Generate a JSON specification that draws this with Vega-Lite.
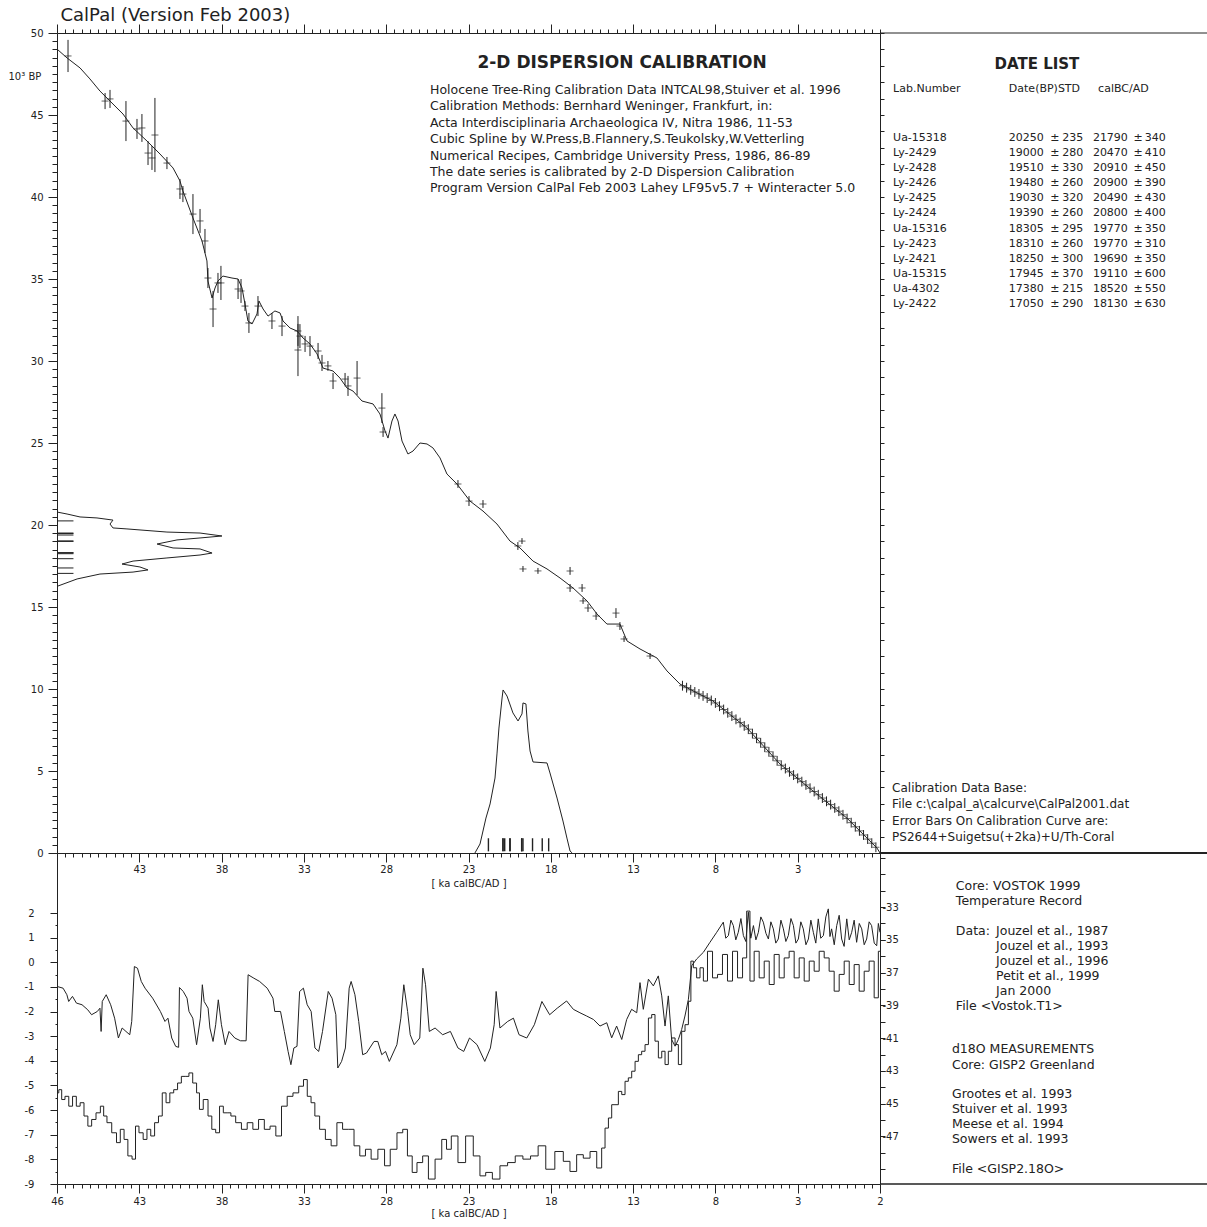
{
"$schema": "https://vega.github.io/schema/vega-lite/v6.json",
"padding": {"left": 8, "top": 6, "right": 0, "bottom": 4},
"config": {
 "view": {"stroke": null},
 "font": "DejaVu Sans",
 "axis": {"grid": false, "domainColor": "#222", "tickColor": "#222", "labelColor": "#222", "labelFont": "DejaVu Sans", "labelFontSize": 10, "titleFont": "DejaVu Sans", "titleFontSize": 10, "titleFontWeight": "normal", "titleColor": "#222", "domainWidth": 1, "tickWidth": 1},
 "text": {"font": "DejaVu Sans", "fill": "#222"}
},
"datasets": {
 "curve": [
  {"x":48000,"y":49020},{"x":47390,"y":48480},{"x":46600,"y":47870},{"x":46000,"y":47200},{"x":45390,"y":46460},{"x":44780,"y":45850},{"x":43990,"y":45060},{"x":43380,"y":44210},{"x":42530,"y":43410},{"x":41740,"y":42620},{"x":40950,"y":41770},{"x":40530,"y":40980},{"x":40350,"y":40370},{"x":39740,"y":38720},{"x":39190,"y":37320},{"x":38890,"y":36100},{"x":38830,"y":34880},{"x":38580,"y":33840},{"x":38400,"y":34450},{"x":38220,"y":34880},{"x":37920,"y":35180},{"x":37370,"y":35060},{"x":37000,"y":35000},{"x":36760,"y":34450},{"x":36580,"y":33480},{"x":36400,"y":32440},{"x":36150,"y":32260},{"x":35850,"y":32870},{"x":35730,"y":33660},{"x":35480,"y":33170},{"x":35180,"y":32740},{"x":34760,"y":33050},{"x":34450,"y":32930},{"x":34270,"y":32440},{"x":33840,"y":32010},{"x":33420,"y":31830},{"x":33050,"y":31400},{"x":32630,"y":31040},{"x":32200,"y":30430},{"x":31840,"y":29570},{"x":31230,"y":29390},{"x":30810,"y":28960},{"x":30380,"y":28350},{"x":30020,"y":28170},{"x":29470,"y":27560},{"x":28800,"y":27380},{"x":28380,"y":26770},{"x":28070,"y":25730},{"x":27890,"y":25300},{"x":27650,"y":26340},{"x":27470,"y":26770},{"x":27280,"y":26340},{"x":27040,"y":25120},{"x":26680,"y":24330},{"x":26370,"y":24510},{"x":25950,"y":25000},{"x":25520,"y":24940},{"x":25160,"y":24700},{"x":24730,"y":24090},{"x":24310,"y":23110},{"x":23700,"y":22500},{"x":22910,"y":21460},{"x":22120,"y":20850},{"x":21270,"y":20060},{"x":20480,"y":19020},{"x":19870,"y":18600},{"x":19080,"y":17800},{"x":18230,"y":17320},{"x":17440,"y":16770},{"x":16650,"y":16160},{"x":15800,"y":15370},{"x":15190,"y":14570},{"x":14590,"y":13960},{"x":13800,"y":13960},{"x":13370,"y":12930},{"x":12580,"y":12440},{"x":11550,"y":11890},{"x":10940,"y":11100},{"x":10150,"y":10300},{"x":9000,"y":9700},{"x":8150,"y":9270},{"x":6080,"y":7620},{"x":4080,"y":5430},{"x":2070,"y":3780},{"x":10,"y":2130},{"x":-1820,"y":300},{"x":-2000,"y":0}
 ],
 "errbars": [
  {"x":47330,"y":48600,"lo":47620,"hi":49580},{"x":45080,"y":45850,"lo":45360,"hi":46340},{"x":44780,"y":45980,"lo":45430,"hi":46530},{"x":43810,"y":44630,"lo":43410,"hi":45850},{"x":43140,"y":44150,"lo":43540,"hi":44760},{"x":42840,"y":44210,"lo":43360,"hi":45060},{"x":42470,"y":42680,"lo":41950,"hi":43410},{"x":42230,"y":42380,"lo":41650,"hi":43110},{"x":42050,"y":43780,"lo":41520,"hi":46040},{"x":41320,"y":42070,"lo":41700,"hi":42440},{"x":40530,"y":40490,"lo":39880,"hi":41100},{"x":40350,"y":40180,"lo":39690,"hi":40670},{"x":39740,"y":38960,"lo":37740,"hi":40180},{"x":39310,"y":38540,"lo":37810,"hi":39270},{"x":39010,"y":37320,"lo":36590,"hi":38050},{"x":38830,"y":35060,"lo":34450,"hi":35670},{"x":38520,"y":33170,"lo":32070,"hi":34270},{"x":38220,"y":34760,"lo":34150,"hi":35370},{"x":38040,"y":34760,"lo":33720,"hi":35800},{"x":37000,"y":34390,"lo":33780,"hi":35000},{"x":36820,"y":34270,"lo":33540,"hi":35000},{"x":36580,"y":33350,"lo":33050,"hi":33650},{"x":36340,"y":32320,"lo":31710,"hi":32930},{"x":35790,"y":33350,"lo":32740,"hi":33960},{"x":34940,"y":32440,"lo":31950,"hi":32930},{"x":34330,"y":32130,"lo":31520,"hi":32740},{"x":33360,"y":31830,"lo":30920,"hi":32740},{"x":33240,"y":31520,"lo":30790,"hi":32250},{"x":32930,"y":31040,"lo":30550,"hi":31530},{"x":33360,"y":30670,"lo":29080,"hi":32260},{"x":32630,"y":30910,"lo":30300,"hi":31520},{"x":32140,"y":30610,"lo":30120,"hi":31100},{"x":31900,"y":29880,"lo":29390,"hi":30370},{"x":31540,"y":29700,"lo":29400,"hi":30000},{"x":31230,"y":28780,"lo":28290,"hi":29270},{"x":30500,"y":28900,"lo":28530,"hi":29270},{"x":30320,"y":28480,"lo":27870,"hi":29090},{"x":29770,"y":28960,"lo":27920,"hi":30000},{"x":28260,"y":27130,"lo":26220,"hi":28040},{"x":28190,"y":25670,"lo":25370,"hi":25970},{"x":23640,"y":22500,"lo":22260,"hi":22740},{"x":22970,"y":21460,"lo":21160,"hi":21760},{"x":22120,"y":21280,"lo":21040,"hi":21520},{"x":20000,"y":18720,"lo":18480,"hi":18960},{"x":19750,"y":19020,"lo":18840,"hi":19200},{"x":19690,"y":17320,"lo":17140,"hi":17500},{"x":18780,"y":17200,"lo":17020,"hi":17380},{"x":16830,"y":17200,"lo":16960,"hi":17440},{"x":16830,"y":16160,"lo":15920,"hi":16400},{"x":16100,"y":16160,"lo":15920,"hi":16400},{"x":16040,"y":15370,"lo":15190,"hi":15550},{"x":15740,"y":14940,"lo":14700,"hi":15180},{"x":15250,"y":14450,"lo":14210,"hi":14690},{"x":14040,"y":14630,"lo":14330,"hi":14930},{"x":13800,"y":13840,"lo":13600,"hi":14080},{"x":13550,"y":13050,"lo":12870,"hi":13230},{"x":11970,"y":12010,"lo":11830,"hi":12190},
  {"x":10000,"y":10200,"lo":9900,"hi":10500},{"x":9750,"y":10080,"lo":9780,"hi":10380},{"x":9500,"y":9950,"lo":9650,"hi":10250},{"x":9250,"y":9820,"lo":9520,"hi":10120},{"x":9000,"y":9700,"lo":9400,"hi":10000},{"x":8750,"y":9580,"lo":9280,"hi":9880},{"x":8500,"y":9450,"lo":9150,"hi":9750},{"x":8250,"y":9300,"lo":9000,"hi":9600},{"x":8000,"y":9150,"lo":8850,"hi":9450},{"x":7750,"y":8950,"lo":8650,"hi":9250},{"x":7500,"y":8750,"lo":8450,"hi":9050},{"x":7250,"y":8550,"lo":8250,"hi":8850},{"x":7000,"y":8350,"lo":8050,"hi":8650},{"x":6750,"y":8150,"lo":7850,"hi":8450},{"x":6500,"y":7950,"lo":7650,"hi":8250},{"x":6250,"y":7750,"lo":7450,"hi":8050},{"x":6000,"y":7550,"lo":7250,"hi":7850},{"x":5750,"y":7280,"lo":6980,"hi":7580},{"x":5500,"y":7000,"lo":6700,"hi":7300},{"x":5250,"y":6720,"lo":6420,"hi":7020},{"x":5000,"y":6450,"lo":6150,"hi":6750},{"x":4750,"y":6170,"lo":5870,"hi":6470},{"x":4500,"y":5900,"lo":5600,"hi":6200},{"x":4250,"y":5620,"lo":5320,"hi":5920},{"x":4000,"y":5350,"lo":5050,"hi":5650},{"x":3750,"y":5150,"lo":4850,"hi":5450},{"x":3500,"y":4950,"lo":4650,"hi":5250},{"x":3250,"y":4750,"lo":4450,"hi":5050},{"x":3000,"y":4550,"lo":4250,"hi":4850},{"x":2750,"y":4350,"lo":4050,"hi":4650},{"x":2500,"y":4150,"lo":3850,"hi":4450},{"x":2250,"y":3950,"lo":3650,"hi":4250},{"x":2000,"y":3750,"lo":3450,"hi":4050},{"x":1750,"y":3550,"lo":3250,"hi":3850},{"x":1500,"y":3350,"lo":3050,"hi":3650},{"x":1250,"y":3150,"lo":2850,"hi":3450},{"x":1000,"y":2950,"lo":2650,"hi":3250},{"x":750,"y":2750,"lo":2450,"hi":3050},{"x":500,"y":2550,"lo":2250,"hi":2850},{"x":250,"y":2330,"lo":2030,"hi":2630},{"x":0,"y":2100,"lo":1800,"hi":2400},{"x":-250,"y":1850,"lo":1550,"hi":2150},{"x":-500,"y":1600,"lo":1300,"hi":1900},{"x":-750,"y":1350,"lo":1050,"hi":1650},{"x":-1000,"y":1100,"lo":800,"hi":1400},{"x":-1250,"y":850,"lo":550,"hi":1150},{"x":-1500,"y":600,"lo":300,"hi":900},{"x":-1750,"y":350,"lo":50,"hi":650}
 ],
 "dist14c": [
  {"x":48000,"y":20790},{"x":47390,"y":20670},{"x":46600,"y":20490},{"x":45570,"y":20430},{"x":44600,"y":20300},{"x":44780,"y":20060},{"x":44600,"y":19820},{"x":43750,"y":19760},{"x":41320,"y":19570},{"x":39310,"y":19510},{"x":37980,"y":19330},{"x":39310,"y":19210},{"x":40710,"y":19090},{"x":41920,"y":18840},{"x":40950,"y":18600},{"x":39310,"y":18540},{"x":38580,"y":18290},{"x":39310,"y":18170},{"x":41320,"y":17990},{"x":43380,"y":17800},{"x":44050,"y":17620},{"x":42960,"y":17440},{"x":42470,"y":17260},{"x":43380,"y":17130},{"x":45390,"y":17010},{"x":46780,"y":16710},{"x":47940,"y":16280}
 ],
 "distcal": [
  {"x":22610,"p":0},{"x":22300,"p":550},{"x":21940,"p":2130},{"x":21690,"p":2990},{"x":21390,"p":4570},{"x":21270,"p":6040},{"x":21150,"p":7620},{"x":20960,"p":9450},{"x":20900,"p":9940},{"x":20660,"p":9570},{"x":20300,"p":8540},{"x":19990,"p":8050},{"x":19750,"p":8480},{"x":19690,"p":9150},{"x":19510,"p":9090},{"x":19390,"p":7440},{"x":19260,"p":6220},{"x":19080,"p":5550},{"x":18230,"p":5490},{"x":18050,"p":4880},{"x":17620,"p":3350},{"x":17260,"p":1950},{"x":17020,"p":910},{"x":16830,"p":120},{"x":16700,"p":0}
 ],
 "dates": [
  {"lab":"Ua-15318","bp":20250,"bpsd":235,"cal":21790,"calsd":340},
  {"lab":"Ly-2429","bp":19000,"bpsd":280,"cal":20470,"calsd":410},
  {"lab":"Ly-2428","bp":19510,"bpsd":330,"cal":20910,"calsd":450},
  {"lab":"Ly-2426","bp":19480,"bpsd":260,"cal":20900,"calsd":390},
  {"lab":"Ly-2425","bp":19030,"bpsd":320,"cal":20490,"calsd":430},
  {"lab":"Ly-2424","bp":19390,"bpsd":260,"cal":20800,"calsd":400},
  {"lab":"Ua-15316","bp":18305,"bpsd":295,"cal":19770,"calsd":350},
  {"lab":"Ly-2423","bp":18310,"bpsd":260,"cal":19770,"calsd":310},
  {"lab":"Ly-2421","bp":18250,"bpsd":300,"cal":19690,"calsd":350},
  {"lab":"Ua-15315","bp":17945,"bpsd":370,"cal":19110,"calsd":600},
  {"lab":"Ua-4302","bp":17380,"bpsd":215,"cal":18520,"calsd":550},
  {"lab":"Ly-2422","bp":17050,"bpsd":290,"cal":18130,"calsd":630}
 ],
 "gisp2": [
  {"x":47980,"d":-37.85},{"x":47630,"d":-37.95},{"x":47400,"d":-38.35},{"x":47290,"d":-38.76},{"x":47060,"d":-38.45},{"x":46820,"d":-38.86},{"x":46480,"d":-38.96},{"x":46130,"d":-39.27},{"x":45900,"d":-39.57},{"x":45550,"d":-39.37},{"x":45390,"d":-39.17},{"x":45320,"d":-40.59},{"x":45250,"d":-38.76},{"x":45010,"d":-38.35},{"x":44740,"d":-38.96},{"x":44500,"d":-39.78},{"x":44270,"d":-40.99},{"x":44040,"d":-40.38},{"x":43810,"d":-40.59},{"x":43580,"d":-40.79},{"x":43460,"d":-39.98},{"x":43300,"d":-36.63},{"x":43110,"d":-36.73},{"x":42880,"d":-37.54},{"x":42650,"d":-37.95},{"x":42190,"d":-38.56},{"x":41720,"d":-39.37},{"x":41440,"d":-39.98},{"x":41260,"d":-39.78},{"x":41030,"d":-40.99},{"x":40790,"d":-41.50},{"x":40610,"d":-41.56},{"x":40560,"d":-37.91},{"x":40330,"d":-38.15},{"x":40100,"d":-38.56},{"x":39980,"d":-39.37},{"x":39750,"d":-39.78},{"x":39520,"d":-41.40},{"x":39290,"d":-39.78},{"x":39170,"d":-37.74},{"x":39060,"d":-38.76},{"x":38820,"d":-39.17},{"x":38710,"d":-40.38},{"x":38520,"d":-41.20},{"x":38360,"d":-40.18},{"x":38200,"d":-38.66},{"x":38010,"d":-40.18},{"x":37780,"d":-41.40},{"x":37550,"d":-40.59},{"x":37200,"d":-40.99},{"x":36850,"d":-41.16},{"x":36510,"d":-41.16},{"x":36390,"d":-37.13},{"x":36040,"d":-37.34},{"x":35690,"d":-37.54},{"x":35230,"d":-37.95},{"x":34880,"d":-38.56},{"x":34770,"d":-39.37},{"x":34420,"d":-39.37},{"x":34190,"d":-40.59},{"x":33960,"d":-41.81},{"x":33790,"d":-42.62},{"x":33610,"d":-41.60},{"x":33420,"d":-41.50},{"x":33260,"d":-38.15},{"x":33030,"d":-37.95},{"x":32800,"d":-38.96},{"x":32560,"d":-39.37},{"x":32330,"d":-41.60},{"x":32100,"d":-41.81},{"x":31870,"d":-40.59},{"x":31520,"d":-38.15},{"x":31290,"d":-38.56},{"x":31060,"d":-39.57},{"x":30940,"d":-42.82},{"x":30710,"d":-42.42},{"x":30480,"d":-41.60},{"x":30250,"d":-37.95},{"x":30130,"d":-37.54},{"x":29900,"d":-38.35},{"x":29670,"d":-39.98},{"x":29430,"d":-42.01},{"x":29200,"d":-41.91},{"x":28740,"d":-41.20},{"x":28510,"d":-41.20},{"x":28270,"d":-42.01},{"x":28040,"d":-41.81},{"x":27810,"d":-42.42},{"x":27350,"d":-41.40},{"x":27110,"d":-39.78},{"x":26930,"d":-37.74},{"x":26700,"d":-39.37},{"x":26540,"d":-40.79},{"x":26300,"d":-41.40},{"x":25960,"d":-40.99},{"x":25770,"d":-36.73},{"x":25610,"d":-37.74},{"x":25380,"d":-40.59},{"x":25030,"d":-40.38},{"x":24570,"d":-40.79},{"x":24100,"d":-40.59},{"x":23640,"d":-41.60},{"x":23290,"d":-41.81},{"x":22940,"d":-40.99},{"x":22480,"d":-41.40},{"x":22010,"d":-42.42},{"x":21670,"d":-41.60},{"x":21440,"d":-40.18},{"x":21320,"d":-38.15},{"x":21090,"d":-40.38},{"x":20620,"d":-39.98},{"x":20270,"d":-39.78},{"x":19930,"d":-40.79},{"x":19460,"d":-40.99},{"x":19000,"d":-40.18},{"x":18540,"d":-38.76},{"x":18070,"d":-39.57},{"x":17610,"d":-39.17},{"x":17440,"d":-39.04},{"x":17040,"d":-38.73},{"x":16630,"d":-39.24},{"x":16230,"d":-39.45},{"x":15820,"d":-39.65},{"x":15410,"d":-39.86},{"x":15010,"d":-40.26},{"x":14600,"d":-40.06},{"x":14300,"d":-40.98},{"x":14000,"d":-40.26},{"x":13690,"d":-41.08},{"x":13390,"d":-39.86},{"x":13090,"d":-39.24},{"x":12780,"d":-39.45},{"x":12580,"d":-37.61},{"x":12380,"d":-39.24},{"x":12070,"d":-37.40},{"x":11770,"d":-37.81},{"x":11470,"d":-37.20},{"x":11260,"d":-38.42},{"x":11060,"d":-40.26},{"x":10860,"d":-38.42},{"x":10660,"d":-41.08},{"x":10450,"d":-41.49},{"x":10250,"d":-41.08},{"x":10050,"d":-40.47},{"x":9850,"d":-39.65},{"x":9640,"d":-38.63},{"x":9440,"d":-36.58},{"x":9140,"d":-36.17},{"x":8730,"d":-35.76},{"x":8330,"d":-35.15},{"x":7920,"d":-34.54},{"x":7520,"d":-33.92},{"x":7370,"d":-34.9},{"x":7210,"d":-34.74},{"x":7060,"d":-33.8},{"x":6910,"d":-34.13},{"x":6760,"d":-35.0},{"x":6610,"d":-34.54},{"x":6450,"d":-33.7},{"x":6300,"d":-34.74},{"x":6150,"d":-35.1},{"x":6000,"d":-33.31},{"x":5850,"d":-34.9},{"x":5690,"d":-34.13},{"x":5540,"d":-35.0},{"x":5390,"d":-34.54},{"x":5240,"d":-33.6},{"x":5090,"d":-33.92},{"x":4930,"d":-34.6},{"x":4780,"d":-34.95},{"x":4630,"d":-33.9},{"x":4480,"d":-34.33},{"x":4330,"d":-35.2},{"x":4180,"d":-34.95},{"x":4020,"d":-33.8},{"x":3870,"d":-34.33},{"x":3720,"d":-35.1},{"x":3570,"d":-34.74},{"x":3410,"d":-33.7},{"x":3260,"d":-34.13},{"x":3110,"d":-35.2},{"x":2960,"d":-34.95},{"x":2810,"d":-33.9},{"x":2660,"d":-34.33},{"x":2500,"d":-35.3},{"x":2350,"d":-34.95},{"x":2200,"d":-33.8},{"x":2050,"d":-34.54},{"x":1900,"d":-35.2},{"x":1750,"d":-33.72},{"x":1600,"d":-34.9},{"x":1440,"d":-34.74},{"x":1290,"d":-33.6},{"x":1140,"d":-33.11},{"x":1040,"d":-34.8},{"x":940,"d":-34.33},{"x":780,"d":-35.3},{"x":630,"d":-34.13},{"x":480,"d":-33.5},{"x":330,"d":-34.95},{"x":180,"d":-35.4},{"x":20,"d":-33.72},{"x":-130,"d":-35.0},{"x":-280,"d":-34.54},{"x":-430,"d":-33.8},{"x":-580,"d":-35.15},{"x":-740,"d":-34.0},{"x":-890,"d":-34.33},{"x":-1040,"d":-35.3},{"x":-1190,"d":-34.95},{"x":-1340,"d":-33.9},{"x":-1490,"d":-34.13},{"x":-1650,"d":-35.2},{"x":-1800,"d":-35.36},{"x":-1900,"d":-34.0},{"x":-2000,"d":-34.54}
 ],
 "vostok": [
  {"x":47980,"t":-5.30},{"x":47800,"t":-5.17},{"x":47630,"t":-5.57},{"x":47400,"t":-5.44},{"x":47170,"t":-5.84},{"x":46940,"t":-5.44},{"x":46710,"t":-5.84},{"x":46480,"t":-5.70},{"x":46240,"t":-6.24},{"x":46010,"t":-6.65},{"x":45780,"t":-6.38},{"x":45480,"t":-6.11},{"x":45250,"t":-5.84},{"x":45080,"t":-6.24},{"x":44850,"t":-6.51},{"x":44500,"t":-6.92},{"x":44270,"t":-7.32},{"x":44040,"t":-6.78},{"x":43810,"t":-7.19},{"x":43580,"t":-7.86},{"x":43300,"t":-7.99},{"x":43160,"t":-6.65},{"x":42880,"t":-6.92},{"x":42650,"t":-7.19},{"x":42420,"t":-6.78},{"x":42190,"t":-7.05},{"x":41950,"t":-6.51},{"x":41720,"t":-6.24},{"x":41490,"t":-5.30},{"x":41260,"t":-5.70},{"x":41030,"t":-5.30},{"x":40790,"t":-5.17},{"x":40560,"t":-4.90},{"x":40330,"t":-4.63},{"x":40100,"t":-4.63},{"x":39870,"t":-4.49},{"x":39640,"t":-4.90},{"x":39400,"t":-5.30},{"x":39290,"t":-5.97},{"x":38940,"t":-5.57},{"x":38710,"t":-6.24},{"x":38480,"t":-6.78},{"x":38240,"t":-6.92},{"x":38010,"t":-5.84},{"x":37780,"t":-6.11},{"x":37550,"t":-6.11},{"x":37320,"t":-6.24},{"x":36970,"t":-6.51},{"x":36620,"t":-6.78},{"x":36270,"t":-6.51},{"x":35930,"t":-6.78},{"x":35580,"t":-6.38},{"x":35230,"t":-6.78},{"x":34880,"t":-6.65},{"x":34530,"t":-7.05},{"x":34190,"t":-5.84},{"x":33840,"t":-5.44},{"x":33490,"t":-5.30},{"x":33140,"t":-5.03},{"x":32910,"t":-4.76},{"x":32680,"t":-5.44},{"x":32450,"t":-5.70},{"x":32220,"t":-6.24},{"x":31870,"t":-6.78},{"x":31520,"t":-7.19},{"x":31170,"t":-7.45},{"x":30820,"t":-6.51},{"x":30480,"t":-6.78},{"x":30130,"t":-6.78},{"x":29780,"t":-7.45},{"x":29430,"t":-7.86},{"x":29090,"t":-7.59},{"x":28740,"t":-7.99},{"x":28270,"t":-7.59},{"x":27930,"t":-8.26},{"x":27580,"t":-7.59},{"x":27110,"t":-6.92},{"x":26880,"t":-6.78},{"x":26540,"t":-7.86},{"x":26300,"t":-8.53},{"x":25960,"t":-8.13},{"x":25610,"t":-7.86},{"x":25260,"t":-8.80},{"x":24800,"t":-7.99},{"x":24450,"t":-7.19},{"x":24220,"t":-7.59},{"x":23870,"t":-7.05},{"x":23410,"t":-8.13},{"x":22940,"t":-7.05},{"x":22480,"t":-7.86},{"x":22130,"t":-8.67},{"x":21780,"t":-8.53},{"x":21320,"t":-8.80},{"x":20860,"t":-8.26},{"x":20390,"t":-8.13},{"x":19930,"t":-7.86},{"x":19460,"t":-7.99},{"x":19000,"t":-7.86},{"x":18540,"t":-7.45},{"x":18070,"t":-8.40},{"x":17440,"t":-7.68},{"x":17040,"t":-8.08},{"x":16630,"t":-8.49},{"x":16230,"t":-7.81},{"x":15820,"t":-7.95},{"x":15410,"t":-7.68},{"x":15010,"t":-8.35},{"x":14810,"t":-7.54},{"x":14600,"t":-6.73},{"x":14400,"t":-6.32},{"x":14200,"t":-5.78},{"x":14000,"t":-5.78},{"x":13790,"t":-5.24},{"x":13590,"t":-5.37},{"x":13390,"t":-4.83},{"x":13190,"t":-4.69},{"x":12980,"t":-4.42},{"x":12780,"t":-4.02},{"x":12580,"t":-3.75},{"x":12380,"t":-3.61},{"x":12170,"t":-3.34},{"x":11970,"t":-2.26},{"x":11770,"t":-2.12},{"x":11570,"t":-3.20},{"x":11360,"t":-3.88},{"x":11160,"t":-3.61},{"x":10960,"t":-4.15},{"x":10760,"t":-3.61},{"x":10550,"t":-3.07},{"x":10350,"t":-3.34},{"x":10150,"t":-4.15},{"x":9950,"t":-2.80},{"x":9740,"t":-2.53},{"x":9540,"t":-1.58},{"x":9440,"t":0.05},{"x":9240,"t":-0.22},{"x":9040,"t":-0.63},{"x":8830,"t":-0.22},{"x":8630,"t":-0.76},{"x":8330,"t":0.45},{"x":8020,"t":-0.63},{"x":7720,"t":-0.49},{"x":7420,"t":0.32},{"x":7110,"t":-0.76},{"x":6810,"t":0.45},{"x":6500,"t":-0.63},{"x":6200,"t":0.18},{"x":6000,"t":2.08},{"x":5800,"t":-0.76},{"x":5490,"t":0.45},{"x":5190,"t":-0.63},{"x":4880,"t":0.05},{"x":4580,"t":-0.90},{"x":4280,"t":0.32},{"x":3970,"t":-0.63},{"x":3670,"t":0.18},{"x":3370,"t":0.45},{"x":3060,"t":-0.63},{"x":2760,"t":0.18},{"x":2450,"t":-0.76},{"x":2150,"t":0.05},{"x":1850,"t":-0.36},{"x":1540,"t":0.45},{"x":1240,"t":0.18},{"x":940,"t":-0.36},{"x":630,"t":-1.17},{"x":330,"t":-0.49},{"x":20,"t":0.05},{"x":-280,"t":-0.90},{"x":-580,"t":-0.09},{"x":-890,"t":-1.17},{"x":-1190,"t":-0.36},{"x":-1490,"t":0.05},{"x":-1800,"t":-1.44},{"x":-2000,"t":0.45}
 ]
},
"columns": 2,
"spacing": 0,
"bounds": "flush",
"concat": [
   {
    "width": 823,
    "height": 820,
    "resolve": {"axis": {"x": "independent", "y": "independent"}},
    "layer": [
     {
      "data": {"name": "curve"},
      "mark": {"type": "line", "color": "#222", "strokeWidth": 1},
      "encoding": {
       "x": {"field": "x", "type": "quantitative", "scale": {"domain": [48000, -2000], "nice": false, "zero": false},
        "axis": {"orient": "bottom", "values": [48000,47500,47000,46500,46000,45500,45000,44500,44000,43500,43000,42500,42000,41500,41000,40500,40000,39500,39000,38500,38000,37500,37000,36500,36000,35500,35000,34500,34000,33500,33000,32500,32000,31500,31000,30500,30000,29500,29000,28500,28000,27500,27000,26500,26000,25500,25000,24500,24000,23500,23000,22500,22000,21500,21000,20500,20000,19500,19000,18500,18000,17500,17000,16500,16000,15500,15000,14500,14000,13500,13000,12500,12000,11500,11000,10500,10000,9500,9000,8500,8000,7500,7000,6500,6000,5500,5000,4500,4000,3500,3000,2500,2000,1500,1000,500,0,-500,-1000,-1500,-2000],
         "labelExpr": "datum.value % 5000 === 3000 && datum.value < 48000 ? '' + datum.value / 1000 : ''",
         "tickSize": {"condition": {"test": "datum.value % 5000 === 3000", "value": 9}, "value": 4},
         "labelPadding": 2, "labelOverlap": false, "labelFlush": false,
         "title": "[ ka calBC/AD ]", "titlePadding": 4}},
       "y": {"field": "y", "type": "quantitative", "scale": {"domain": [0, 50000], "nice": false, "zero": false},
        "axis": {"orient": "left", "values": [0,500,1000,1500,2000,2500,3000,3500,4000,4500,5000,5500,6000,6500,7000,7500,8000,8500,9000,9500,10000,10500,11000,11500,12000,12500,13000,13500,14000,14500,15000,15500,16000,16500,17000,17500,18000,18500,19000,19500,20000,20500,21000,21500,22000,22500,23000,23500,24000,24500,25000,25500,26000,26500,27000,27500,28000,28500,29000,29500,30000,30500,31000,31500,32000,32500,33000,33500,34000,34500,35000,35500,36000,36500,37000,37500,38000,38500,39000,39500,40000,40500,41000,41500,42000,42500,43000,43500,44000,44500,45000,45500,46000,46500,47000,47500,48000,48500,49000,49500,50000],
         "labelExpr": "datum.value % 5000 === 0 ? '' + datum.value / 1000 : ''",
         "tickSize": {"condition": {"test": "datum.value % 5000 === 0", "value": 9}, "value": 5},
         "labelPadding": 5, "labelOverlap": false, "labelFlush": false,
         "title": "10³ BP", "titleAngle": 0, "titleX": -49, "titleY": 43, "titleAlign": "left", "titleBaseline": "middle"}}
      }
     },
     {
      "data": {"name": "errbars"},
      "mark": {"type": "rule", "color": "#222", "strokeWidth": 1},
      "encoding": {
       "x": {"field": "x", "type": "quantitative",
        "axis": {"orient": "top", "values": [48000,47500,47000,46500,46000,45500,45000,44500,44000,43500,43000,42500,42000,41500,41000,40500,40000,39500,39000,38500,38000,37500,37000,36500,36000,35500,35000,34500,34000,33500,33000,32500,32000,31500,31000,30500,30000,29500,29000,28500,28000,27500,27000,26500,26000,25500,25000,24500,24000,23500,23000,22500,22000,21500,21000,20500,20000,19500,19000,18500,18000,17500,17000,16500,16000,15500,15000,14500,14000,13500,13000,12500,12000,11500,11000,10500,10000,9500,9000,8500,8000,7500,7000,6500,6000,5500,5000,4500,4000,3500,3000,2500,2000,1500,1000,500,0,-500,-1000,-1500,-2000],
         "labels": false,
         "tickSize": {"condition": {"test": "datum.value % 5000 === 3000", "value": 9}, "value": 4},
         "title": "CalPal (Version Feb 2003)", "titleX": 3, "titleY": -13, "titleAlign": "left", "titleAnchor": "start", "titleBaseline": "alphabetic", "titleFontSize": 18, "titleAngle": 0}},
       "y": {"field": "lo", "type": "quantitative",
        "axis": {"orient": "right", "values": [0,1000,2000,3000,4000,5000,6000,7000,8000,9000,10000,11000,12000,13000,14000,15000,16000,17000,18000,19000,20000,21000,22000,23000,24000,25000,26000,27000,28000,29000,30000,31000,32000,33000,34000,35000,36000,37000,38000,39000,40000,41000,42000,43000,44000,45000,46000,47000,48000,49000,50000],
         "labels": false, "tickSize": 4, "title": null}},
       "y2": {"field": "hi"}
      }
     },
     {
      "data": {"name": "errbars"},
      "mark": {"type": "tick", "orient": "horizontal", "size": 7, "thickness": 1, "color": "#222"},
      "encoding": {
       "x": {"field": "x", "type": "quantitative", "axis": null},
       "y": {"field": "y", "type": "quantitative", "axis": null}
      }
     },
     {
      "data": {"name": "dist14c"},
      "mark": {"type": "line", "color": "#222", "strokeWidth": 1},
      "encoding": {
       "x": {"field": "x", "type": "quantitative", "axis": null},
       "y": {"field": "y", "type": "quantitative", "axis": null},
       "order": {"value": null}
      }
     },
     {
      "data": {"name": "distcal"},
      "mark": {"type": "line", "color": "#222", "strokeWidth": 1},
      "encoding": {
       "x": {"field": "x", "type": "quantitative", "axis": null},
       "y": {"field": "p", "type": "quantitative", "axis": null},
       "order": {"value": null}
      }
     },
     {
      "data": {"name": "dates"},
      "mark": {"type": "rule", "color": "#222", "strokeWidth": 1},
      "encoding": {
       "x": {"datum": 48000, "type": "quantitative", "axis": null},
       "x2": {"datum": 47000},
       "y": {"field": "bp", "type": "quantitative", "axis": null}
      }
     },
     {
      "data": {"name": "dates"},
      "mark": {"type": "rule", "color": "#222", "strokeWidth": 1.4},
      "encoding": {
       "x": {"field": "cal", "type": "quantitative", "axis": null},
       "y": {"datum": 100, "type": "quantitative", "axis": null},
       "y2": {"datum": 900}
      }
     },
     {
      "data": {"values": [{}]},
      "mark": {"type": "text", "align": "center", "baseline": "middle", "fontSize": 17, "fontWeight": "bold"},
      "encoding": {
       "x": {"datum": 13670, "type": "quantitative", "axis": null},
       "y": {"datum": 48170, "type": "quantitative", "axis": null},
       "text": {"value": "2-D DISPERSION CALIBRATION"}
      }
     },
     {
      "data": {"values": [{}]},
      "mark": {"type": "text", "align": "left", "baseline": "alphabetic", "fontSize": 12.5, "lineHeight": 16.4},
      "encoding": {
       "x": {"datum": 25340, "type": "quantitative", "axis": null},
       "y": {"datum": 46280, "type": "quantitative", "axis": null},
       "text": {"value": ["Holocene Tree-Ring Calibration Data INTCAL98,Stuiver et al. 1996", "Calibration Methods:  Bernhard Weninger, Frankfurt, in:", "Acta Interdisciplinaria Archaeologica IV, Nitra 1986, 11-53", "Cubic Spline by W.Press,B.Flannery,S.Teukolsky,W.Vetterling", "Numerical Recipes, Cambridge University Press, 1986, 86-89", "The date series is calibrated by 2-D Dispersion Calibration", "Program Version CalPal Feb 2003 Lahey LF95v5.7 + Winteracter 5.0"]}
      }
     }
    ]
   },
   {
    "width": 327,
    "height": 820,
    "resolve": {"scale": {"y": "independent"}},
    "layer": [
     {
      "data": {"values": [{}]},
      "layer": [
       {
        "mark": {"type": "rule", "color": "#222", "strokeWidth": 1},
        "encoding": {
         "x": {"datum": 0, "type": "quantitative", "scale": {"domain": [0, 100], "nice": false, "zero": false}, "axis": null},
         "x2": {"datum": 100},
         "y": {"datum": 100, "type": "quantitative", "scale": {"domain": [0, 100], "nice": false, "zero": false}, "axis": null}
        }
       },
       {
        "mark": {"type": "rule", "color": "#222", "strokeWidth": 2},
        "encoding": {
         "x": {"datum": 0, "type": "quantitative", "scale": {"domain": [0, 100]}, "axis": null},
         "x2": {"datum": 100},
         "y": {"datum": 0, "type": "quantitative", "scale": {"domain": [0, 100]}, "axis": null}
        }
       },
       {
        "mark": {"type": "text", "align": "center", "baseline": "middle", "fontSize": 15, "fontWeight": "bold"},
        "encoding": {
         "x": {"datum": 48, "type": "quantitative", "scale": {"domain": [0, 100]}, "axis": null},
         "y": {"datum": 96.2, "type": "quantitative", "scale": {"domain": [0, 100]}, "axis": null},
         "text": {"value": "DATE LIST"}
        }
       },
       {
        "mark": {"type": "text", "align": "left", "baseline": "middle", "fontSize": 11},
        "encoding": {
         "x": {"datum": 4, "type": "quantitative", "scale": {"domain": [0, 100]}, "axis": null},
         "y": {"datum": 93.2, "type": "quantitative", "scale": {"domain": [0, 100]}, "axis": null},
         "text": {"value": "Lab.Number"}
        }
       },
       {
        "mark": {"type": "text", "align": "left", "baseline": "middle", "fontSize": 11},
        "encoding": {
         "x": {"datum": 39.4, "type": "quantitative", "scale": {"domain": [0, 100]}, "axis": null},
         "y": {"datum": 93.2, "type": "quantitative", "scale": {"domain": [0, 100]}, "axis": null},
         "text": {"value": "Date(BP)STD"}
        }
       },
       {
        "mark": {"type": "text", "align": "left", "baseline": "middle", "fontSize": 11},
        "encoding": {
         "x": {"datum": 66.7, "type": "quantitative", "scale": {"domain": [0, 100]}, "axis": null},
         "y": {"datum": 93.2, "type": "quantitative", "scale": {"domain": [0, 100]}, "axis": null},
         "text": {"value": "calBC/AD"}
        }
       },
       {
        "mark": {"type": "text", "align": "left", "baseline": "alphabetic", "fontSize": 12, "lineHeight": 16.3},
        "encoding": {
         "x": {"datum": 3.7, "type": "quantitative", "scale": {"domain": [0, 100]}, "axis": null},
         "y": {"datum": 7.44, "type": "quantitative", "scale": {"domain": [0, 100]}, "axis": null},
         "text": {"value": ["Calibration Data Base:", "File c:\\calpal_a\\calcurve\\CalPal2001.dat", "Error Bars On Calibration Curve are:", "PS2644+Suigetsu(+2ka)+U/Th-Coral"]}
        }
       }
      ]
     },
     {
      "data": {"name": "dates"},
      "encoding": {
       "y": {"field": "lab", "type": "ordinal", "sort": null, "scale": {"type": "point", "range": [97, 279]}, "axis": null}
      },
      "layer": [
       {"mark": {"type": "text", "align": "left", "baseline": "middle", "fontSize": 11},
        "encoding": {"x": {"datum": 4, "type": "quantitative", "scale": {"domain": [0, 100]}, "axis": null}, "text": {"field": "lab", "type": "nominal"}}},
       {"mark": {"type": "text", "align": "left", "baseline": "middle", "fontSize": 11},
        "encoding": {"x": {"datum": 39.4, "type": "quantitative", "scale": {"domain": [0, 100]}, "axis": null}, "text": {"field": "bp", "type": "nominal"}}},
       {"mark": {"type": "text", "align": "center", "baseline": "middle", "fontSize": 11},
        "encoding": {"x": {"datum": 53.5, "type": "quantitative", "scale": {"domain": [0, 100]}, "axis": null}, "text": {"value": "±"}}},
       {"mark": {"type": "text", "align": "left", "baseline": "middle", "fontSize": 11},
        "encoding": {"x": {"datum": 55.7, "type": "quantitative", "scale": {"domain": [0, 100]}, "axis": null}, "text": {"field": "bpsd", "type": "nominal"}}},
       {"mark": {"type": "text", "align": "left", "baseline": "middle", "fontSize": 11},
        "encoding": {"x": {"datum": 65.1, "type": "quantitative", "scale": {"domain": [0, 100]}, "axis": null}, "text": {"field": "cal", "type": "nominal"}}},
       {"mark": {"type": "text", "align": "center", "baseline": "middle", "fontSize": 11},
        "encoding": {"x": {"datum": 78.9, "type": "quantitative", "scale": {"domain": [0, 100]}, "axis": null}, "text": {"value": "±"}}},
       {"mark": {"type": "text", "align": "left", "baseline": "middle", "fontSize": 11},
        "encoding": {"x": {"datum": 81.0, "type": "quantitative", "scale": {"domain": [0, 100]}, "axis": null}, "text": {"field": "calsd", "type": "nominal"}}}
      ]
     }
    ]
   },
   {
    "width": 823,
    "height": 331,
    "resolve": {"scale": {"y": "independent"}, "axis": {"x": "independent", "y": "independent"}},
    "layer": [
     {
      "data": {"name": "vostok"},
      "mark": {"type": "line", "interpolate": "step", "color": "#222", "strokeWidth": 1},
      "encoding": {
       "x": {"field": "x", "type": "quantitative", "scale": {"domain": [48000, -2000], "nice": false, "zero": false},
        "axis": {"orient": "bottom", "values": [48000,47500,47000,46500,46000,45500,45000,44500,44000,43500,43000,42500,42000,41500,41000,40500,40000,39500,39000,38500,38000,37500,37000,36500,36000,35500,35000,34500,34000,33500,33000,32500,32000,31500,31000,30500,30000,29500,29000,28500,28000,27500,27000,26500,26000,25500,25000,24500,24000,23500,23000,22500,22000,21500,21000,20500,20000,19500,19000,18500,18000,17500,17000,16500,16000,15500,15000,14500,14000,13500,13000,12500,12000,11500,11000,10500,10000,9500,9000,8500,8000,7500,7000,6500,6000,5500,5000,4500,4000,3500,3000,2500,2000,1500,1000,500,0,-500,-1000,-1500,-2000],
         "labelExpr": "datum.value === 48000 ? '46' : (datum.value === -2000 ? '2' : (datum.value % 5000 === 3000 ? '' + datum.value / 1000 : ''))",
         "tickSize": {"condition": {"test": "datum.value % 5000 === 3000 || datum.value === -2000", "value": 9}, "value": 4},
         "labelPadding": 3, "labelOverlap": false, "labelFlush": false,
         "title": "[ ka calBC/AD ]", "titlePadding": 2}},
       "y": {"field": "t", "type": "quantitative", "scale": {"domain": [-9, 4.44], "nice": false, "zero": false},
        "axis": {"orient": "left", "values": [2,1.5,1,0.5,0,-0.5,-1,-1.5,-2,-2.5,-3,-3.5,-4,-4.5,-5,-5.5,-6,-6.5,-7,-7.5,-8,-8.5,-9],
         "labelExpr": "datum.value % 1 === 0 ? '' + datum.value : ''",
         "tickSize": {"condition": {"test": "datum.value % 1 === 0", "value": 7}, "value": 2},
         "labelPadding": 16, "labelOverlap": false, "labelFlush": false, "title": null}},
       "order": {"value": null}
      }
     },
     {
      "data": {"name": "gisp2"},
      "mark": {"type": "line", "color": "#222", "strokeWidth": 1},
      "encoding": {
       "x": {"field": "x", "type": "quantitative", "axis": null},
       "y": {"field": "d", "type": "quantitative", "scale": {"domain": [-49.9, -29.7], "nice": false, "zero": false},
        "axis": {"orient": "right", "values": [-30,-31,-32,-33,-34,-35,-36,-37,-38,-39,-40,-41,-42,-43,-44,-45,-46,-47,-48,-49],
         "labelExpr": "datum.value % 2 !== 0 && datum.value <= -33 && datum.value >= -47 ? '' + datum.value : ''",
         "tickSize": 5, "labelPadding": -3, "labelOverlap": false, "labelFlush": false, "title": null}},
       "order": {"value": null}
      }
     }
    ]
   },
   {
    "width": 327,
    "height": 331,
    "data": {"values": [{}]},
    "layer": [
     {
      "mark": {"type": "rule", "color": "#222", "strokeWidth": 1.5},
      "encoding": {
       "x": {"datum": 0, "type": "quantitative", "scale": {"domain": [0, 100], "nice": false, "zero": false}, "axis": null},
       "x2": {"datum": 100},
       "y": {"datum": 0, "type": "quantitative", "scale": {"domain": [0, 100], "nice": false, "zero": false}, "axis": null}
      }
     },
     {
      "mark": {"type": "text", "align": "left", "baseline": "alphabetic", "fontSize": 12.5, "lineHeight": 15},
      "encoding": {
       "x": {"datum": 23.2, "type": "quantitative", "scale": {"domain": [0, 100]}, "axis": null},
       "y": {"datum": 88.8, "type": "quantitative", "scale": {"domain": [0, 100]}, "axis": null},
       "text": {"value": ["Core: VOSTOK  1999", "Temperature  Record"]}
      }
     },
     {
      "mark": {"type": "text", "align": "left", "baseline": "alphabetic", "fontSize": 12.5},
      "encoding": {
       "x": {"datum": 23.2, "type": "quantitative", "scale": {"domain": [0, 100]}, "axis": null},
       "y": {"datum": 75.2, "type": "quantitative", "scale": {"domain": [0, 100]}, "axis": null},
       "text": {"value": "Data:"}
      }
     },
     {
      "mark": {"type": "text", "align": "left", "baseline": "alphabetic", "fontSize": 12.5},
      "encoding": {
       "x": {"datum": 23.2, "type": "quantitative", "scale": {"domain": [0, 100]}, "axis": null},
       "y": {"datum": 52.6, "type": "quantitative", "scale": {"domain": [0, 100]}, "axis": null},
       "text": {"value": "File  <Vostok.T1>"}
      }
     },
     {
      "mark": {"type": "text", "align": "left", "baseline": "alphabetic", "fontSize": 12.5, "lineHeight": 15},
      "encoding": {
       "x": {"datum": 35.5, "type": "quantitative", "scale": {"domain": [0, 100]}, "axis": null},
       "y": {"datum": 75.2, "type": "quantitative", "scale": {"domain": [0, 100]}, "axis": null},
       "text": {"value": ["Jouzel et al., 1987", "Jouzel et al., 1993", "Jouzel et al., 1996", "Petit et al.,  1999", "Jan 2000"]}
      }
     },
     {
      "mark": {"type": "text", "align": "left", "baseline": "alphabetic", "fontSize": 12.5, "lineHeight": 16},
      "encoding": {
       "x": {"datum": 22.0, "type": "quantitative", "scale": {"domain": [0, 100]}, "axis": null},
       "y": {"datum": 39.6, "type": "quantitative", "scale": {"domain": [0, 100]}, "axis": null},
       "text": {"value": ["d18O MEASUREMENTS", "Core: GISP2 Greenland"]}
      }
     },
     {
      "mark": {"type": "text", "align": "left", "baseline": "alphabetic", "fontSize": 12.5, "lineHeight": 15},
      "encoding": {
       "x": {"datum": 22.0, "type": "quantitative", "scale": {"domain": [0, 100]}, "axis": null},
       "y": {"datum": 26.0, "type": "quantitative", "scale": {"domain": [0, 100]}, "axis": null},
       "text": {"value": ["Grootes et al. 1993", "Stuiver et al. 1993", "Meese et al. 1994", "Sowers et al. 1993"]}
      }
     },
     {
      "mark": {"type": "text", "align": "left", "baseline": "alphabetic", "fontSize": 12.5},
      "encoding": {
       "x": {"datum": 22.0, "type": "quantitative", "scale": {"domain": [0, 100]}, "axis": null},
       "y": {"datum": 3.3, "type": "quantitative", "scale": {"domain": [0, 100]}, "axis": null},
       "text": {"value": "File <GISP2.18O>"}
      }
     }
    ]
   }
]
}
